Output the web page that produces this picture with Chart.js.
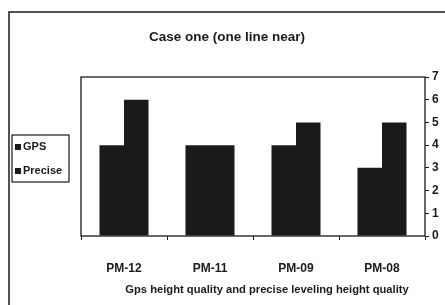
<!DOCTYPE html>
<html>
<head>
<meta charset="utf-8">
<script src="https://cdn.jsdelivr.net/npm/chart.js@4/dist/chart.umd.min.js"></script>
<style>
  html, body { margin: 0; padding: 0; background: #fff; }
  #wrap { width: 445px; height: 305px; position: relative; }
</style>
</head>
<body>
<div id="wrap"><canvas id="chart_case"></canvas></div>
<script>
var categories = ['PM-12', 'PM-11', 'PM-09', 'PM-08'];
var gpsValues = [4, 4, 4, 3];
var preciseValues = [6, 4, 5, 5];
var yTicks = [0, 1, 2, 3, 4, 5, 6, 7];
var chartTitle = 'Case one (one line near)';
var xTitle = 'Gps height quality and precise leveling height quality';

var FONT = '"Liberation Sans", Arial, sans-serif';
var INK = '#1a1a1a';

// scan frame, title, plot border, legend box
var decorations = {
  id: 'decorations',
  beforeDraw: function (chart) {
    var c = chart.ctx;
    c.save();
    c.fillStyle = '#fff';
    c.fillRect(0, 0, chart.width, chart.height);
    c.restore();
  },
  afterDraw: function (chart) {
    var c = chart.ctx, a = chart.chartArea;
    c.save();
    c.strokeStyle = INK;
    c.lineWidth = 1.5;
    // outer frame (cut by the page edge)
    c.beginPath();
    c.moveTo(9, 305); c.lineTo(9, 12); c.lineTo(445, 12);
    c.stroke();
    // plot frame
    c.lineWidth = 1.3;
    c.strokeRect(a.left, a.top, a.right - a.left, a.bottom - a.top);

    c.fillStyle = INK;
    c.textAlign = 'center';
    c.textBaseline = 'middle';
    c.font = 'bold 13.5px ' + FONT;
    c.fillText(chartTitle, 227, 37);
    c.font = 'bold 11.2px ' + FONT;
    c.fillText(xTitle, 267, 290);

    // legend
    c.lineWidth = 1.2;
    c.strokeRect(12, 135, 57, 47);
    c.textAlign = 'left';
    c.font = 'bold 11px ' + FONT;
    chart.data.datasets.forEach(function (ds, i) {
      var y = 147 + i * 24;
      c.fillStyle = ds.backgroundColor;
      c.fillRect(15, y - 3, 6, 6);
      c.fillStyle = INK;
      c.fillText(ds.label, 23, y);
    });
    c.restore();
  }
};

var ctx = document.getElementById('chart_case');
var myChart = new Chart(ctx, {
  type: 'bar',
  data: {
    labels: categories,
    datasets: [
      { label: 'GPS', data: gpsValues, backgroundColor: INK, borderWidth: 0 },
      { label: 'Precise', data: preciseValues, backgroundColor: INK, borderWidth: 0 }
    ]
  },
  options: {
    responsive: true,
    maintainAspectRatio: false,
    animation: false,
    devicePixelRatio: 1,
    layout: { padding: { left: 81, top: 77, right: 0, bottom: 0 } },
    datasets: { bar: { categoryPercentage: 0.57, barPercentage: 1.0 } },
    plugins: {
      legend: { display: false },
      title: { display: false },
      tooltip: { enabled: false }
    },
    scales: {
      x: {
        position: 'bottom',
        offset: true,
        grid: { display: true, drawOnChartArea: false, tickLength: 4, color: INK, offset: true },
        border: { display: false },
        ticks: { color: INK, font: { family: FONT, size: 12, weight: 'bold' }, padding: 21, maxRotation: 0 },
        afterFit: function (s) { s.height = 69; }
      },
      y: {
        position: 'right',
        min: 0,
        max: 7,
        afterBuildTicks: function (s) { s.ticks = yTicks.map(function (v) { return { value: v }; }); },
        grid: { display: true, drawOnChartArea: false, tickLength: 4, color: INK },
        border: { display: false },
        ticks: { color: INK, font: { family: FONT, size: 12, weight: 'bold' }, padding: 3 },
        afterFit: function (s) { s.width = 20; }
      }
    }
  },
  plugins: [decorations]
});
</script>
</body>
</html>
